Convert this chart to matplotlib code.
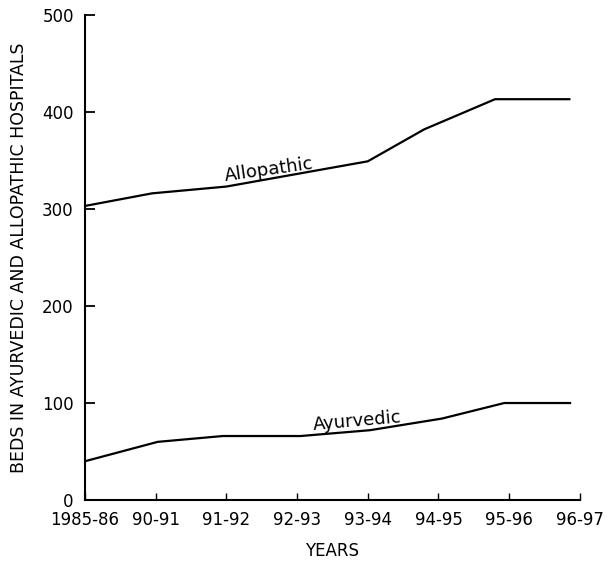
import numpy as np
import matplotlib.pyplot as plt

# data
years = ['1985-86', '90-91', '91-92', '92-93', '93-94', '94-95', '95-96', '96-97']

allo_x = [0, 0.95, 2.0, 4.0, 4.8, 5.8, 6.85]
allo_y = [303, 316, 323, 349, 382, 413, 413]

ayur_x = [0, 1.03, 1.95, 3.05, 4.03, 5.05, 5.93, 6.86]
ayur_y = [40, 60, 66, 66, 72, 84, 100, 100]

plt.rcParams['font.family'] = ['DejaVu Sans']

fig = plt.figure(figsize=(6.15, 5.67), dpi=100)
ax = fig.add_axes([0.138, 0.118, 0.805, 0.856])

ax.plot(allo_x, allo_y, color='black', lw=1.6)
ax.plot(ayur_x, ayur_y, color='black', lw=1.6)

ax.text(2.6, 340, 'Allopathic', rotation=8, ha='center', va='center', fontsize=13)
ax.text(3.85, 81, 'Ayurvedic', rotation=5, ha='center', va='center', fontsize=13)

ax.set_xlim(0, 7)
ax.set_ylim(0, 500)
ax.set_xticks(range(len(years)))
ax.set_xticklabels(years, fontsize=12)
ax.set_yticks([0, 100, 200, 300, 400, 500])
ax.set_yticklabels(['0', '100', '200', '300', '400', '500'], fontsize=12)
ax.tick_params(axis='y', direction='in', length=7, width=1.3, pad=8)
ax.tick_params(axis='x', direction='in', length=5, width=1, pad=8)

ax.spines['top'].set_visible(False)
ax.spines['right'].set_visible(False)
ax.spines['left'].set_linewidth(1.5)
ax.spines['bottom'].set_linewidth(1.5)

ax.set_ylabel('BEDS IN AYURVEDIC AND ALLOPATHIC HOSPITALS', fontsize=12.5, labelpad=10)
ax.set_xlabel('YEARS', fontsize=12, labelpad=9)

fig.savefig('out.png', dpi=100)
